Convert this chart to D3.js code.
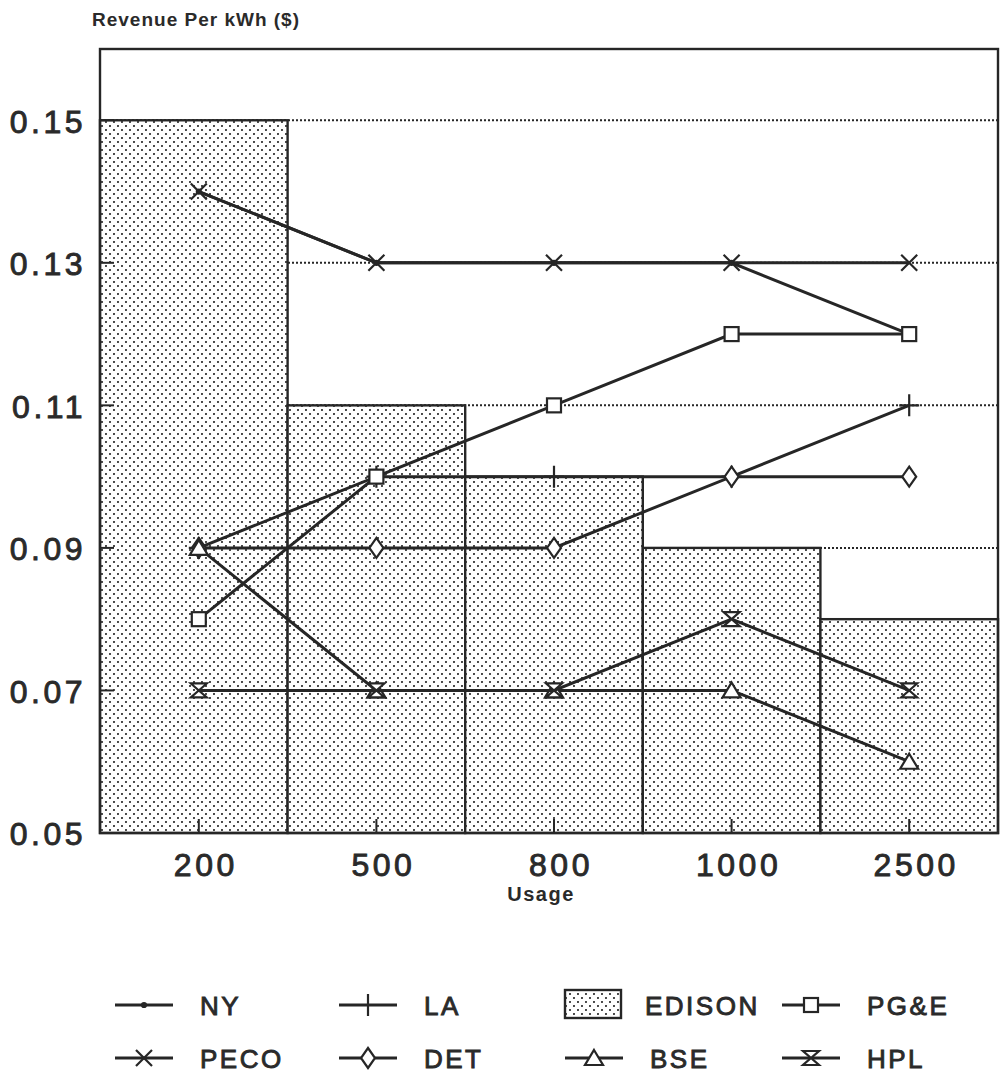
<!DOCTYPE html>
<html>
<head>
<meta charset="utf-8">
<script src="https://cdn.jsdelivr.net/npm/d3@7"></script>
<style>
  body { margin: 0; background: #fff; }
  text { font-family: "Liberation Sans", Arial, sans-serif; fill: #2a2a2a; }
  text.heavy { stroke: #2a2a2a; stroke-width: 0.9; }
</style>
</head>
<body>
<div id="chart"></div>
<script>
// data
var usage = ["200", "500", "800", "1000", "2500"];
var edison = [0.15, 0.11, 0.10, 0.09, 0.08];
var ny   = [0.14, 0.13, 0.13, 0.13, 0.12];
var la   = [0.09, 0.10, 0.10, 0.10, 0.11];
var peco = [0.14, 0.13, 0.13, 0.13, 0.13];
var det  = [0.09, 0.09, 0.09, 0.10, 0.10];
var pge  = [0.08, 0.10, 0.11, 0.12, 0.12];
var bse  = [0.09, 0.07, 0.07, 0.07, 0.06];
var hpl  = [0.07, 0.07, 0.07, 0.08, 0.07];
var yTicks = [0.05, 0.07, 0.09, 0.11, 0.13, 0.15];

var lineSeries = [
  {name: "NY", values: ny, marker: "dot"},
  {name: "LA", values: la, marker: "plus"},
  {name: "PECO", values: peco, marker: "x"},
  {name: "DET", values: det, marker: "diamond"},
  {name: "PG&E", values: pge, marker: "square"},
  {name: "BSE", values: bse, marker: "triangle"},
  {name: "HPL", values: hpl, marker: "hourglass"}
];

var width = 1005, height = 1078;
var pLeft = 100, pTop = 49, pRight = 998, pBottom = 833;
var ink = "#262626";

var svg = d3.select("#chart").append("svg")
  .attr("width", width)
  .attr("height", height);

var defs = svg.append("defs");
var pat = defs.append("pattern")
  .attr("id", "dots")
  .attr("patternUnits", "userSpaceOnUse")
  .attr("width", 8).attr("height", 8);
pat.append("rect").attr("width", 8).attr("height", 8).attr("fill", "#fff");
pat.append("circle").attr("cx", 2).attr("cy", 2).attr("r", 1.05).attr("fill", "#1e1e1e");
pat.append("circle").attr("cx", 6).attr("cy", 6).attr("r", 1.05).attr("fill", "#1e1e1e");

var x = d3.scaleBand().domain(usage).range([110, pRight]).paddingInner(0).paddingOuter(0);
var y = d3.scaleLinear().domain([0.05, 0.16]).range([pBottom, pTop]);
var cx = function(i) { return x(usage[i]) + x.bandwidth() / 2; };

// dotted grid lines
svg.selectAll("line.grid")
  .data(yTicks.slice(1))
  .enter().append("line")
    .attr("class", "grid")
    .attr("x1", pLeft).attr("x2", pRight)
    .attr("y1", function(d) { return y(d); })
    .attr("y2", function(d) { return y(d); })
    .attr("stroke", ink)
    .attr("stroke-width", 2)
    .attr("stroke-dasharray", "2,2");

// EDISON bars
svg.selectAll("rect.bar")
  .data(edison)
  .enter().append("rect")
    .attr("class", "bar")
    .attr("x", function(d, i) { return i == 0 ? pLeft : x(usage[i]); })
    .attr("width", function(d, i) { return i == 0 ? x(usage[1]) - pLeft : x.bandwidth(); })
    .attr("y", function(d) { return y(d); })
    .attr("height", function(d) { return pBottom - y(d); })
    .attr("fill", "url(#dots)")
    .attr("stroke", ink)
    .attr("stroke-width", 2.4);

// plot frame
svg.append("rect")
  .attr("x", pLeft).attr("y", pTop)
  .attr("width", pRight - pLeft).attr("height", pBottom - pTop)
  .attr("fill", "none")
  .attr("stroke", ink)
  .attr("stroke-width", 2.4);

// small inward ticks on both axes
svg.selectAll("line.xtick")
  .data(usage)
  .enter().append("line")
    .attr("class", "xtick")
    .attr("x1", function(d, i) { return cx(i); })
    .attr("x2", function(d, i) { return cx(i); })
    .attr("y1", pBottom).attr("y2", pBottom - 14)
    .attr("stroke", ink).attr("stroke-width", 2);

svg.selectAll("line.ytick")
  .data(yTicks.slice(1))
  .enter().append("line")
    .attr("class", "ytick")
    .attr("x1", pLeft).attr("x2", pLeft + 14)
    .attr("y1", function(d) { return y(d); })
    .attr("y2", function(d) { return y(d); })
    .attr("stroke", ink).attr("stroke-width", 2);

function drawMarker(g, type, px, py) {
  var s = g.append("g").attr("transform", "translate(" + px + "," + py + ")")
    .attr("stroke", ink).attr("stroke-width", 2.2).attr("fill", "none");
  if (type == "dot") {
    s.append("circle").attr("r", 2).attr("fill", ink);
  } else if (type == "plus") {
    s.append("path").attr("d", "M0,-11V11M-10,0H10");
  } else if (type == "x") {
    s.append("path").attr("d", "M-8,-8L8,8M-8,8L8,-8");
  } else if (type == "square") {
    s.append("rect").attr("x", -7).attr("y", -7).attr("width", 14).attr("height", 14).attr("fill", "#fff");
  } else if (type == "diamond") {
    s.append("path").attr("d", "M0,-10L7,0L0,10L-7,0Z").attr("fill", "#fff");
  } else if (type == "triangle") {
    s.append("path").attr("d", "M0,-8L9,7L-9,7Z").attr("fill", "#fff");
  } else if (type == "hourglass") {
    s.append("path").attr("d", "M-8,-7H8L-8,7H8Z").attr("fill", "#fff");
  }
}

var line = d3.line()
  .x(function(d, i) { return cx(i); })
  .y(function(d) { return y(d); });

lineSeries.forEach(function(s) {
  var g = svg.append("g");
  g.append("path")
    .attr("d", line(s.values))
    .attr("fill", "none")
    .attr("stroke", ink)
    .attr("stroke-width", 3);
  s.values.forEach(function(v, i) { drawMarker(g, s.marker, cx(i), y(v)); });
});

// axis labels
svg.selectAll("text.ylab")
  .data(yTicks)
  .enter().append("text")
    .attr("class", "ylab heavy")
    .text(function(d) { return d3.format(".2f")(d); })
    .attr("x", 86)
    .attr("y", function(d) { return y(d) + 4; })
    .attr("text-anchor", "end")
    .attr("dominant-baseline", "middle")
    .attr("font-size", 32)
    .attr("letter-spacing", 3.5);

svg.selectAll("text.xlab")
  .data(usage)
  .enter().append("text")
    .attr("class", "xlab heavy")
    .text(function(d) { return d; })
    .attr("x", function(d, i) { return cx(i) + 7; })
    .attr("y", 868)
    .attr("text-anchor", "middle")
    .attr("dominant-baseline", "middle")
    .attr("font-size", 32)
    .attr("letter-spacing", 3.5);

svg.append("text")
  .text("Revenue Per kWh ($)")
  .attr("x", 92).attr("y", 26)
  .attr("font-size", 19)
  .attr("font-weight", "bold")
  .attr("letter-spacing", 1);

svg.append("text")
  .text("Usage")
  .attr("x", 541).attr("y", 896)
  .attr("text-anchor", "middle")
  .attr("dominant-baseline", "middle")
  .attr("font-size", 20)
  .attr("font-weight", "bold")
  .attr("letter-spacing", 1.5);

// legend
var legendItems = [
  {name: "NY", marker: "dot", col: 0, row: 0},
  {name: "LA", marker: "plus", col: 1, row: 0},
  {name: "EDISON", marker: "box", col: 2, row: 0},
  {name: "PG&E", marker: "square", col: 3, row: 0},
  {name: "PECO", marker: "x", col: 0, row: 1},
  {name: "DET", marker: "diamond", col: 1, row: 1},
  {name: "BSE", marker: "triangle", col: 2, row: 1},
  {name: "HPL", marker: "hourglass", col: 3, row: 1}
];
var colX = [115, 339, 565, 782];
var rowY = [1005, 1058];

legendItems.forEach(function(d) {
  var lx = colX[d.col], ly = rowY[d.row];
  var g = svg.append("g");
  if (d.marker == "box") {
    g.append("rect")
      .attr("x", lx).attr("y", ly - 15)
      .attr("width", 56).attr("height", 28)
      .attr("fill", "url(#dots)")
      .attr("stroke", ink).attr("stroke-width", 2.4);
  } else {
    g.append("line")
      .attr("x1", lx).attr("x2", lx + 58)
      .attr("y1", ly).attr("y2", ly)
      .attr("stroke", ink).attr("stroke-width", 3);
    drawMarker(g, d.marker, lx + 29, ly);
  }
  g.append("text")
    .attr("class", "heavy")
    .text(d.name)
    .attr("x", lx + (d.marker == "box" ? 80 : 85))
    .attr("y", ly + 3)
    .attr("dominant-baseline", "middle")
    .attr("font-size", 26)
    .attr("letter-spacing", 2.5);
});
</script>
</body>
</html>
